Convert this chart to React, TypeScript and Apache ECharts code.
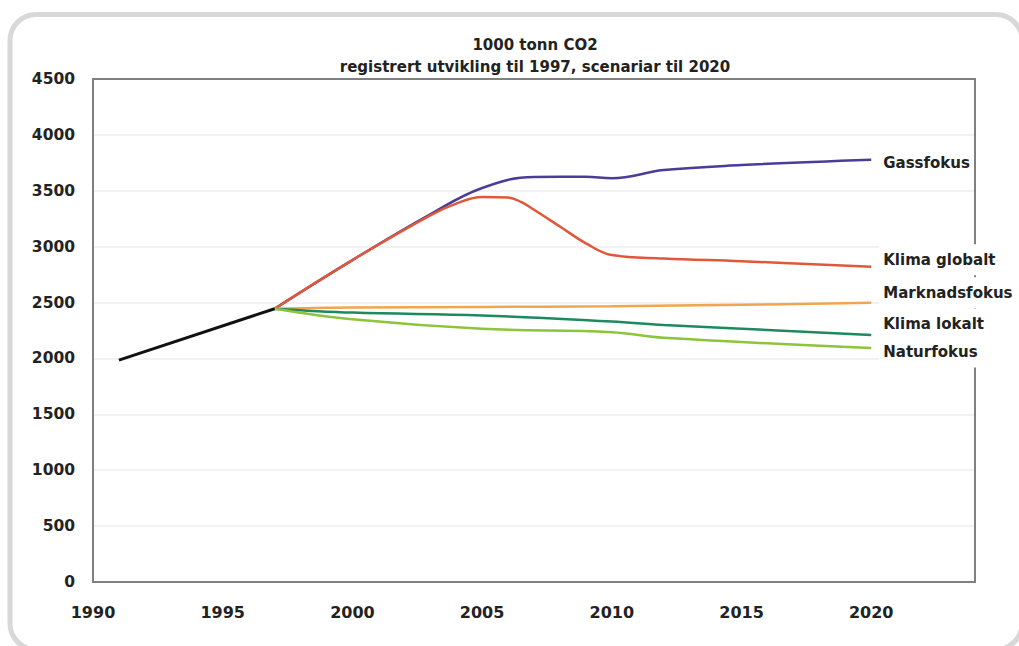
import React, { useEffect, useRef } from "react";
import * as echarts from "echarts";

const FONT = '"DejaVu Sans", "Liberation Sans", sans-serif';

// Axis ticks
const yearTicks = { min: 1990, max: 2024, step: 5 };
const valueTicks = { min: 0, max: 4500, step: 500 };

// Registered development, 1000 tonn CO2
const registrert: [number, number][] = [
  [1991, 1985],
  [1997, 2445],
];

// Scenarios to 2020
const gassfokus: [number, number][] = [
  [1997, 2445], [2000, 2880], [2003, 3290], [2005, 3525], [2007, 3623],
  [2009, 3625], [2010, 3612], [2012, 3685], [2015, 3730], [2020, 3778],
];
const klimaGlobalt: [number, number][] = [
  [1997, 2445], [2000, 2880], [2003, 3280], [2004, 3385], [2005, 3445],
  [2006, 3440], [2006.5, 3400], [2007, 3330], [2008, 3180], [2009, 3030],
  [2010, 2925], [2012, 2895], [2015, 2870], [2020, 2820],
];
const marknadsfokus: [number, number][] = [
  [1997, 2445], [2000, 2455], [2005, 2460], [2010, 2468], [2015, 2480], [2020, 2498],
];
const klimaLokalt: [number, number][] = [
  [1997, 2445], [2000, 2410], [2005, 2385], [2010, 2330], [2012, 2300], [2020, 2210],
];
const naturfokus: [number, number][] = [
  [1997, 2445], [2000, 2350], [2005, 2265], [2010, 2235], [2012, 2185], [2020, 2093],
];

const scenarios = [
  { name: "Gassfokus", data: gassfokus, color: "#4b3c98", dy: 3 },
  { name: "Klima globalt", data: klimaGlobalt, color: "#e0583a", dy: -7 },
  { name: "Marknadsfokus", data: marknadsfokus, color: "#f0a64e", dy: -10 },
  { name: "Klima lokalt", data: klimaLokalt, color: "#1c8a5e", dy: -11 },
  { name: "Naturfokus", data: naturfokus, color: "#8cc43c", dy: 4 },
];

export default function App() {
  const ref = useRef<HTMLDivElement>(null);

  useEffect(() => {
    if (!ref.current) return;
    const chart = echarts.init(ref.current, null, { renderer: "svg" });

    const labelStyle = {
      fontFamily: FONT,
      fontSize: 16,
      fontWeight: "bold" as const,
      color: "#222",
    };

    const series: any[] = scenarios.map((s) => ({
      type: "line",
      name: s.name,
      data: s.data,
      smooth: 0.4,
      showSymbol: false,
      clip: false,
      lineStyle: { color: s.color, width: 2.5 },
      itemStyle: { color: s.color },
      endLabel: {
        show: true,
        formatter: "{a}",
        distance: 0,
        offset: [8, s.dy],
        backgroundColor: "#ffffff",
        padding: [8, 4],
        ...labelStyle,
        fontSize: 15,
      },
      z: 3,
    }));

    series.push({
      type: "line",
      name: "Registrert",
      data: registrert,
      showSymbol: false,
      lineStyle: { color: "#111111", width: 3 },
      itemStyle: { color: "#111111" },
      z: 4,
    });

    chart.setOption({
      animation: false,
      backgroundColor: "#ffffff",
      title: {
        text: "1000 tonn CO2\nregistrert utvikling til 1997, scenariar til 2020",
        left: 530,
        top: 29,
        textAlign: "center",
        textStyle: {
          fontFamily: FONT,
          fontSize: 15,
          fontWeight: "bold",
          lineHeight: 22,
          color: "#222",
        },
      },
      grid: {
        left: 93,
        right: 44,
        top: 79,
        bottom: 64,
        show: true,
        borderColor: "#808080",
        borderWidth: 2,
        backgroundColor: "transparent",
        z: 2,
      },
      xAxis: {
        type: "value",
        min: yearTicks.min,
        max: yearTicks.max,
        interval: yearTicks.step,
        axisLine: { show: false },
        axisTick: { show: false },
        splitLine: { show: false },
        axisLabel: {
          margin: 22,
          showMaxLabel: false,
          formatter: (v: number) => String(v),
          ...labelStyle,
        },
      },
      yAxis: {
        type: "value",
        min: valueTicks.min,
        max: valueTicks.max,
        interval: valueTicks.step,
        axisLine: { show: false },
        axisTick: { show: false },
        splitLine: {
          show: true,
          showMinLine: false,
          showMaxLine: false,
          lineStyle: { color: "#f2f2f2", width: 2 },
        },
        axisLabel: {
          margin: 18,
          formatter: (v: number) => String(v),
          ...labelStyle,
          fontSize: 15.5,
        },
      },
      graphic: [
        {
          type: "rect",
          shape: { x: 10, y: 14.5, width: 1012, height: 635, r: 26 },
          style: { fill: "none", stroke: "#d8d8d8", lineWidth: 5 },
          silent: true,
          z: -1,
        },
      ],
      series,
    });

    return () => chart.dispose();
  }, []);

  return (
    <div
      ref={ref}
      style={{ position: "fixed", left: 0, top: 0, width: 1019, height: 646 }}
    />
  );
}
